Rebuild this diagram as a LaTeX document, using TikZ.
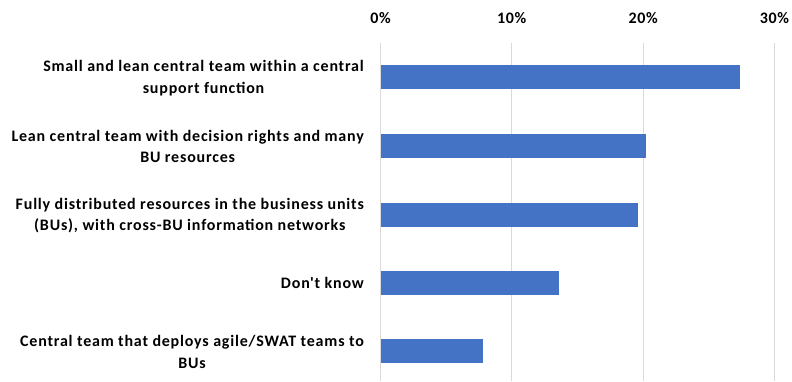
\documentclass[tikz,border=0pt]{standalone}
\usepackage{fontspec}
\setmainfont{Carlito}[Ligatures=TeXOff]

\definecolor{barblue}{HTML}{4472C4}
\definecolor{gridgray}{HTML}{D9D9D9}

\begin{document}
\begin{tikzpicture}[x=1pt, y=-1pt]

    % Styles for the grid, the bars and the texts
    \tikzset{
        grid/.style={draw=gridgray, line width=1pt},
        bar/.style={fill=barblue, draw=none},
        catlabel/.style={anchor=east, align=center, inner sep=0pt,
            font=\fontsize{16}{21.3}\selectfont\bfseries\addfontfeature{LetterSpace=5}},
        ticklabel/.style={inner sep=0pt,
            font=\fontsize{16}{19}\selectfont\bfseries\addfontfeature{LetterSpace=4}}
    }

    % Page frame
    \useasboundingbox (0,0) rectangle (792,381);

    % Define the origin of the value axis (0%) and one percent step
    \coordinate (O) at (380.5,43);
    \def\pct{13.13}

    % Draw the vertical gridlines at 0%, 10%, 20% and 30%
    \coordinate (G0) at (380.5,43);
    \coordinate (G1) at (380.5+10*\pct,43);
    \coordinate (G2) at (380.5+20*\pct,43);
    \coordinate (G3) at (380.5+30*\pct,43);
    \draw[grid] (G0) -- (G0 |- 0,381);
    \draw[grid] (G1) -- (G1 |- 0,381);
    \draw[grid] (G2) -- (G2 |- 0,381);
    \draw[grid] (G3) -- (G3 |- 0,381);

    % Add the tick labels above the gridlines
    \node[ticklabel] (T0) at (G0 |- 0,18) {0\%};
    \node[ticklabel] (T1) at (G1 |- 0,18) {10\%};
    \node[ticklabel] (T2) at (G2 |- 0,18) {20\%};
    \node[ticklabel] (T3) at (G3 |- 0,18) {30\%};

    % Draw the bars, 24 high
    \fill[bar] (380.5,65)    rectangle (380.5+27.4*\pct,89);
    \fill[bar] (380.5,133.5) rectangle (380.5+20.2*\pct,157.5);
    \fill[bar] (380.5,202.5) rectangle (380.5+19.6*\pct,226.5);
    \fill[bar] (380.5,271)   rectangle (380.5+13.6*\pct,295);
    \fill[bar] (380.5,339)   rectangle (380.5+7.8*\pct,363);

    % Add the category labels left of the bars
    \node[catlabel] (A) at (364,78)
        {Small and lean central team within a central\\support function};
    \node[catlabel] (B) at (364,146.5)
        {Lean central team with decision rights and many\\BU resources};
    \node[catlabel] (C) at (364,215.5)
        {Fully distributed resources in the business units\\(BUs), with cross-BU information networks};
    \node[catlabel] (D) at (364,283)
        {Don't know};
    \node[catlabel] (E) at (364,352)
        {Central team that deploys agile/SWAT teams to\\BUs};

\end{tikzpicture}
\end{document}
